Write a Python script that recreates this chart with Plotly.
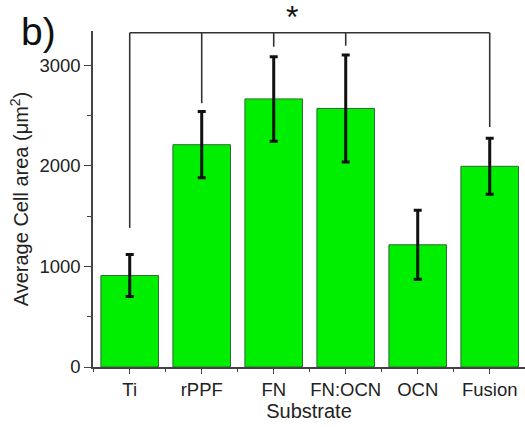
import plotly.graph_objects as go

# Mean cell area per substrate with standard deviation
substrates = ["Ti", "rPPF", "FN", "FN:OCN", "OCN", "Fusion"]
cell_area = [910, 2210, 2665, 2570, 1215, 1995]
cell_area_sd = [208, 330, 420, 532, 343, 278]

# Significance bracket: where each drop line ends, and the bar height
bracket_level = 3322
drop_ends = [1383, 2622, 3184, 3194, None, 2385]
bracket_from, bracket_to = 0, 5
star_label = "*"

y_ticks = [0, 1000, 2000, 3000]

x_pos = list(range(len(substrates)))

fig = go.Figure()
fig.add_trace(go.Bar(
    x=x_pos,
    y=cell_area,
    width=0.8,
    marker=dict(color="#00ee00", line=dict(color="#2f6b2f", width=1)),
    error_y=dict(type="data", array=cell_area_sd, visible=True,
                 color="#111111", thickness=3, width=4),
    showlegend=False,
))

line_style = dict(color="#333333", width=1.6)
# horizontal bar of the bracket
fig.add_shape(type="line", xref="x", yref="y",
              x0=bracket_from, x1=bracket_to, y0=bracket_level, y1=bracket_level,
              line=line_style)
# drop lines towards the compared bars
for xi, end in zip(x_pos, drop_ends):
    if end is None:
        continue
    fig.add_shape(type="line", xref="x", yref="y",
                  x0=xi, x1=xi, y0=end, y1=bracket_level, line=line_style)

fig.add_annotation(x=2.26, y=bracket_level, xref="x", yref="y",
                   text=star_label, showarrow=False, yanchor="bottom",
                   yshift=-4,
                   font=dict(family="Liberation Sans, Arial", size=32, color="#111111"))

fig.add_annotation(x=-0.172, y=1.0, xref="paper", yref="paper",
                   text="b)", showarrow=False, xanchor="left", yanchor="middle",
                   font=dict(family="Liberation Sans, Arial", size=39, color="#111111"))

tick_font = dict(family="Liberation Sans, Arial", size=18.5, color="#222222")
title_font = dict(family="Liberation Sans, Arial", size=20, color="#222222")

fig.update_xaxes(
    range=[-0.51, 5.49],
    tickmode="array", tickvals=x_pos, ticktext=substrates,
    ticks="outside", ticklen=5, tickwidth=1.2, tickcolor="#444444",
    minor=dict(tickmode="linear", tick0=0.5, dtick=1, ticks="outside",
               ticklen=3, tickwidth=1.2, tickcolor="#444444"),
    showline=True, linecolor="#444444", linewidth=1.5,
    showgrid=False, zeroline=False,
    tickfont=tick_font,
    title=dict(text="Substrate", font=title_font, standoff=2),
)
fig.update_yaxes(
    range=[0, 3340],
    tickmode="array", tickvals=y_ticks,
    ticks="outside", ticklen=7, tickwidth=1.2, tickcolor="#444444",
    minor=dict(tickmode="linear", tick0=500, dtick=1000, ticks="outside",
               ticklen=4, tickwidth=1.2, tickcolor="#444444"),
    showline=True, linecolor="#444444", linewidth=1.5,
    showgrid=False, zeroline=False,
    tickfont=tick_font,
    title=dict(text="Average Cell area (\u03bcm<sup>2</sup>)", font=title_font, standoff=5),
)

fig.update_layout(
    width=525, height=427,
    margin=dict(l=93, r=0, t=31, b=60),
    plot_bgcolor="white", paper_bgcolor="white",
    bargap=0.2,
)

fig.write_html("out.html")
